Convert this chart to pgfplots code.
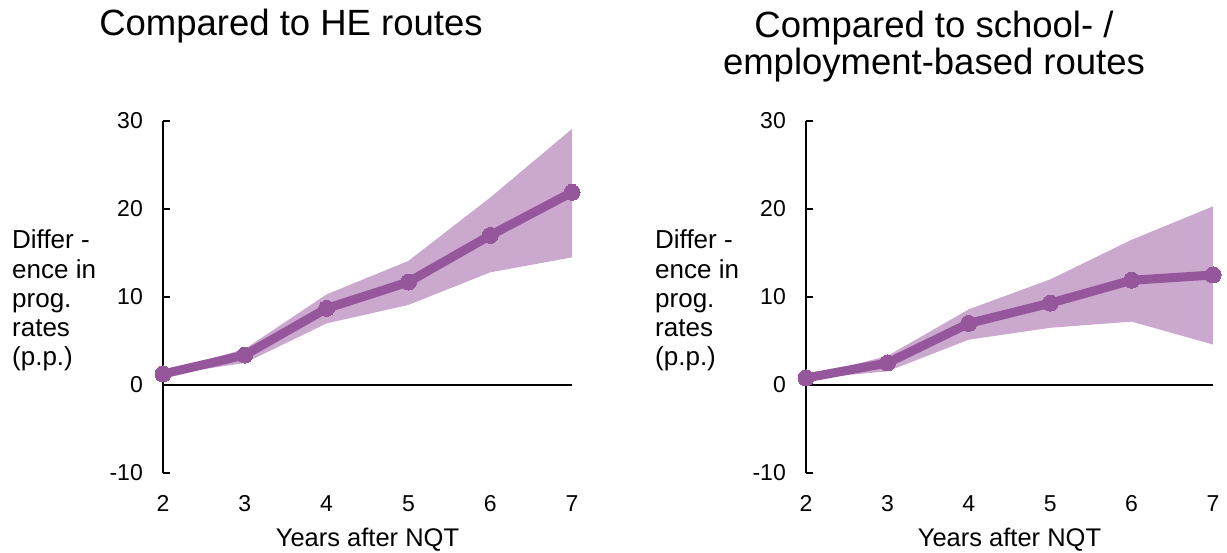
\documentclass[border=0pt]{standalone}
\usepackage{fontspec}
\setmainfont{Liberation Sans}
\usepackage{pgfplots}
\pgfplotsset{compat=1.18}
\definecolor{pline}{HTML}{96569C}
\definecolor{pband}{HTML}{CBA9CF}
\pgfplotsset{panel/.style={
  scale only axis, height=352pt,
  xmin=2,xmax=7,ymin=-10,ymax=30,
  axis y line=left, axis x line=bottom,
  axis line style={-},
  x axis line style={draw=none},
  y axis line style={line width=1.4pt},
  xtick={2,...,7}, ytick={-10,0,...,30},
  xtick style={draw=none},
  ytick style={line width=1.4pt, black},
  tick align=inside, major tick length=7pt,
  tick label style={font=\fontsize{23}{23}\selectfont},
  /pgf/number format/assume math mode=true,
  yticklabel style={anchor=east, inner sep=0pt, xshift=-20pt},
  xticklabel style={anchor=base, inner sep=0pt, yshift=-39pt},
  xlabel={Years after NQT},
  every axis x label/.style={at={(rel axis cs:0.5,0)}, anchor=base, yshift=-74pt, inner sep=0pt, font=\fontsize{25.5}{25.5}\selectfont},
  ylabel={Differ -\\ence in\\prog.\\rates\\(p.p.)},
  every axis y label/.style={at={(rel axis cs:0,0)}, anchor=base west, xshift=-151pt, yshift=107pt, inner sep=0pt, align=left, font=\fontsize{26}{29.25}\selectfont},
  clip=false,
}}
\begin{document}
\begin{tikzpicture}
\useasboundingbox (0,0) rectangle (1227pt,553pt);
\begin{axis}[panel, at={(163pt,80pt)}, width=409pt]
\addplot[black, line width=1.4pt, forget plot] coordinates {(2,0)(7,0)};
\addplot[fill=pband, draw=none] coordinates {(2,1.1)(3,2.5)(4,7.0)(5,9.1)(6,12.8)(7,14.5)(7,29.1)(6,21.3)(5,14.1)(4,10.3)(3,4.1)(2,1.4)} -- cycle;
\addplot[pline, line width=9pt, mark=*, mark size=8pt, mark options={fill=pline, draw=pline, line width=0pt}] coordinates {(2,1.25)(3,3.4)(4,8.7)(5,11.7)(6,17.0)(7,21.9)};
\end{axis}
\begin{axis}[panel, at={(806pt,80pt)}, width=407pt]
\addplot[black, line width=1.4pt, forget plot] coordinates {(2,0)(7,0)};
\addplot[fill=pband, draw=none] coordinates {(2,0.7)(3,1.55)(4,5.15)(5,6.5)(6,7.2)(7,4.6)(7,20.3)(6,16.5)(5,12.0)(4,8.6)(3,3.3)(2,0.9)} -- cycle;
\addplot[pline, line width=9pt, mark=*, mark size=8pt, mark options={fill=pline, draw=pline, line width=0pt}] coordinates {(2,0.8)(3,2.5)(4,7.0)(5,9.3)(6,11.9)(7,12.5)};
\end{axis}
\node[anchor=base, inner sep=0pt, font=\fontsize{36.5}{37}\selectfont] at (291pt,517pt) {Compared to HE routes};
\node[anchor=base, inner sep=0pt, font=\fontsize{36.5}{37}\selectfont] at (934pt,515.5pt) {Compared to school- /};
\node[anchor=base, inner sep=0pt, font=\fontsize{36.5}{37}\selectfont] at (934pt,478.5pt) {employment-based routes};
\end{tikzpicture}
\end{document}
